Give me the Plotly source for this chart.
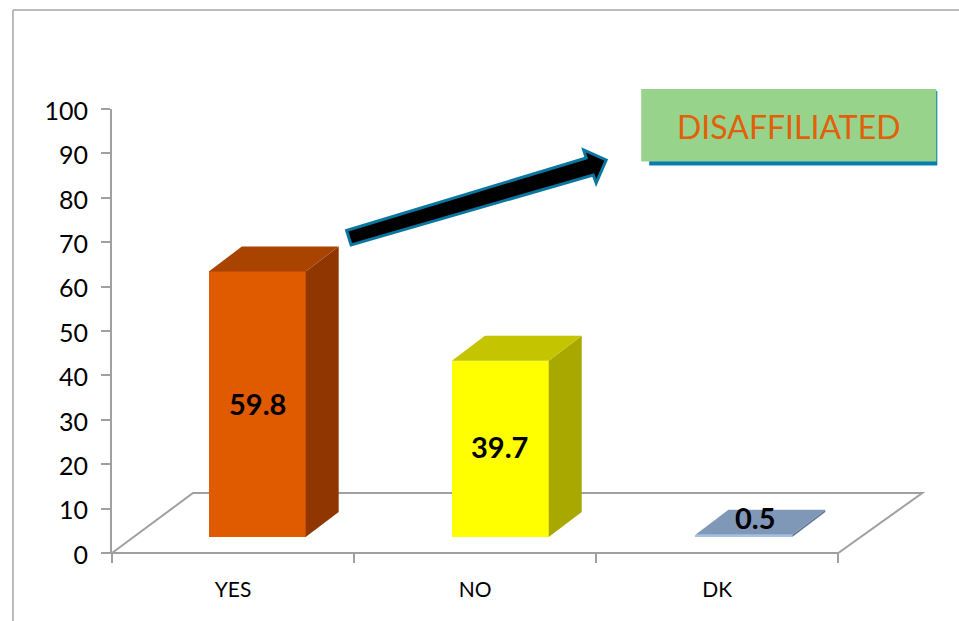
import plotly.graph_objects as go

categories = ["YES", "NO", "DK"]
values = [59.8, 39.7, 0.5]
value_labels = ["59.8", "39.7", "0.5"]
y_ticks = [0, 10, 20, 30, 40, 50, 60, 70, 80, 90, 100]
callout_text = "DISAFFILIATED"

front_colors = ["#E05A00", "#FFFF00", "#A3C0E6"]
side_colors = ["#903600", "#A8A800", "#5F7694"]
top_colors = ["#A84400", "#C4C400", "#8098B8"]

W, H = 959, 621
L, T, B = 112, 109, 553
CAT_PX = 242.0
UNIT_PX = (B - T) / 100.0
X_RANGE = [-0.5, 2.85]
R = L + CAT_PX * (X_RANGE[1] - X_RANGE[0])
BASE = 16 / UNIT_PX
DX = 33 / CAT_PX
DY = 25 / UNIT_PX
WIDTH = 0.4
OFFSETS = [-0.1, -0.096, -0.09]
FONT = "Lato"
GRAY = "#A0A0A0"


def pxx(x):
    return (x - L) / (R - L)


def pyy(y):
    return (B - y) / (B - T)


def poly(points):
    return "M " + " L ".join(f"{pxx(x):.5f},{pyy(y):.5f}" for x, y in points) + " Z"


fig = go.Figure()

fig.add_trace(go.Bar(
    x=list(range(len(categories))),
    y=values,
    base=[BASE] * len(values),
    width=WIDTH,
    offset=OFFSETS,
    marker=dict(color=front_colors, line=dict(width=0)),
    hoverinfo="skip",
))

for i, v in enumerate(values):
    x0 = i + OFFSETS[i]
    x1 = x0 + WIDTH
    y0 = BASE
    y1 = BASE + v
    fig.add_trace(go.Scatter(
        x=[x1, x1 + DX, x1 + DX, x1, x1],
        y=[y0, y0 + DY, y1 + DY, y1, y0],
        mode="lines", fill="toself", fillcolor=side_colors[i],
        line=dict(width=0), hoverinfo="skip",
    ))
    fig.add_trace(go.Scatter(
        x=[x0, x0 + DX, x1 + DX, x1, x0],
        y=[y1, y1 + DY, y1 + DY, y1, y1],
        mode="lines", fill="toself", fillcolor=top_colors[i],
        line=dict(width=0), hoverinfo="skip",
    ))

label_yshift = [1, 2, 18]
label_xshift = [0, -1, 12]
annotations = []
for i, v in enumerate(values):
    annotations.append(dict(
        x=i + OFFSETS[i] + WIDTH / 2, y=BASE + v / 2, xref="x", yref="y",
        text=f"<b>{value_labels[i]}</b>", showarrow=False,
        xshift=label_xshift[i], yshift=label_yshift[i],
        font=dict(family=FONT, size=29, color="#000000"),
    ))
annotations.append(dict(
    x=pxx(789), y=pyy(126), xref="paper", yref="paper", text=callout_text,
    xanchor="center", yanchor="middle",
    showarrow=False, font=dict(family=FONT, size=32, color="#E2600A"),
))

shapes = [
    # outer frame
    dict(type="line", xref="paper", yref="paper", x0=pxx(13), x1=pxx(13), y0=pyy(10), y1=pyy(621),
         line=dict(color="#A6A6A6", width=1.5), layer="below"),
    dict(type="line", xref="paper", yref="paper", x0=pxx(13), x1=pxx(959), y0=pyy(10), y1=pyy(10),
         line=dict(color="#A6A6A6", width=1.5), layer="below"),
    # floor
    dict(type="path", xref="paper", yref="paper",
         path=poly([(112, 553), (193, 493), (922, 493), (838, 553)]),
         line=dict(color=GRAY, width=2), fillcolor="rgba(0,0,0,0)", layer="below"),
    # callout shadow and box
    dict(type="rect", xref="paper", yref="paper", x0=pxx(649), x1=pxx(937), y0=pyy(165.5), y1=pyy(91),
         fillcolor="#0A7DB0", line=dict(width=0), layer="below"),
    dict(type="rect", xref="paper", yref="paper", x0=pxx(641), x1=pxx(936), y0=pyy(161.5), y1=pyy(89),
         fillcolor="#97D38B", line=dict(width=0), layer="below"),
    # arrow
    dict(type="path", xref="paper", yref="paper",
         path=poly([(346.5, 230.5), (586, 158), (583.5, 150), (606, 160),
                    (596, 183), (593, 175), (351, 245)]),
         fillcolor="#000000", line=dict(color="#0B76A0", width=3)),
]

fig.update_layout(
    width=W, height=H,
    margin=dict(l=L, t=T, r=W - R, b=H - B, pad=0),
    paper_bgcolor="white", plot_bgcolor="rgba(0,0,0,0)",
    showlegend=False,
    bargap=0,
    font=dict(family=FONT, color="#000000"),
    shapes=shapes,
    annotations=annotations,
    xaxis=dict(
        range=X_RANGE, showgrid=False, zeroline=False, showline=False,
        tickmode="array", tickvals=list(range(len(categories))), ticktext=categories,
        ticks="outside", ticklen=18, tickcolor="rgba(0,0,0,0)", tickwidth=1,
        tickfont=dict(family=FONT, size=21, color="#000000"),
        minor=dict(tickmode="array", tickvals=[-0.5, 0.5, 1.5, 2.5],
                   ticks="outside", ticklen=9, tickcolor=GRAY, tickwidth=1.5, showgrid=False),
    ),
    yaxis=dict(
        range=[0, 100], showgrid=False, zeroline=False,
        showline=True, linecolor=GRAY, linewidth=2,
        tickmode="array", tickvals=y_ticks,
        ticks="outside", ticklen=9, tickcolor=GRAY, tickwidth=1.5,
        ticklabelstandoff=8, ticklabelshift=2,
        tickfont=dict(family=FONT, size=25, color="#000000"),
    ),
)

fig.write_html("out.html", config={"displayModeBar": False},
               post_script="document.body.style.margin='0';document.body.style.overflow='hidden';")
